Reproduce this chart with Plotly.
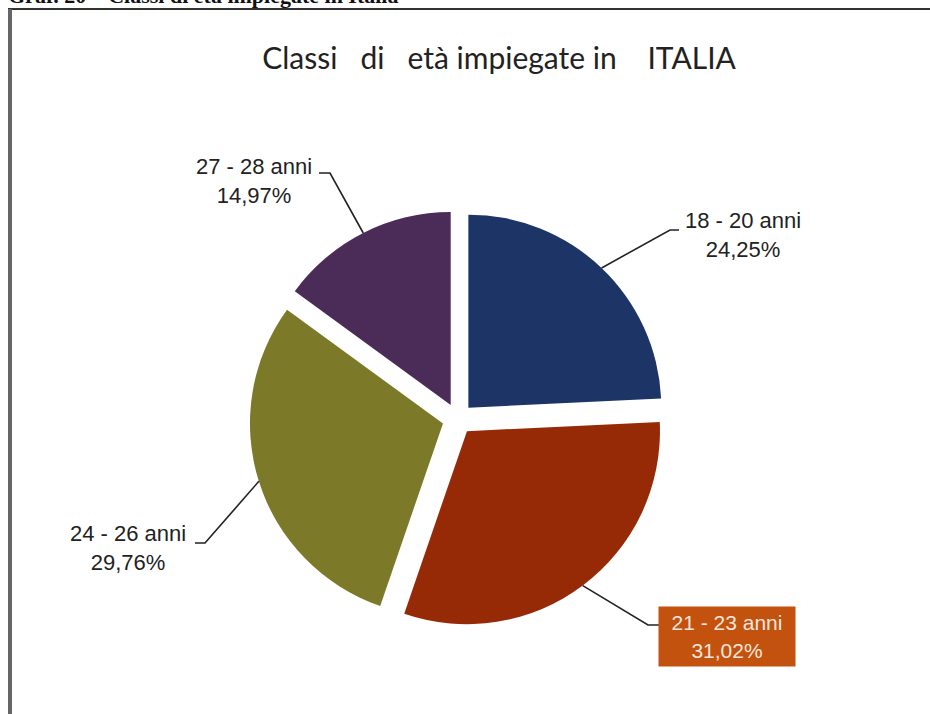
import math
import plotly.graph_objects as go

# ---- data ----
labels = ["18 - 20 anni", "21 - 23 anni", "24 - 26 anni", "27 - 28 anni"]
values = [24.25, 31.02, 29.76, 14.97]
pct_text = ["24,25%", "31,02%", "29,76%", "14,97%"]
colors = ["#1d3467", "#972a06", "#7c7929", "#4b2b57"]

NB = "\u00a0"
title_text = ("Classi" + NB * 3 + "di" + NB * 3 + "età" + NB + "impiegate" + NB + "in"
              + NB * 4 + "ITALIA")
caption_text = "Graf. 20 – Classi di età impiegate in Italia"

# ---- geometry (pixels) ----
W, H = 930, 714
CX, CY = 457.7, 418.8
R = 193.0
PULL = 0.08
half = R * (1 + PULL)
dom_x = [(CX - half) / W, (CX + half) / W]
dom_y = [(H - CY - half) / H, (H - CY + half) / H]


def px(x, y):
    return x / W, 1 - y / H


fig = go.Figure(go.Pie(
    labels=labels,
    values=values,
    sort=False,
    direction="clockwise",
    rotation=0,
    pull=[PULL] * len(values),
    marker=dict(colors=colors, line=dict(width=0)),
    textinfo="none",
    hoverinfo="label+percent",
    showlegend=False,
    domain=dict(x=dom_x, y=dom_y),
))

# edge points of slices (from data) for leader lines
total = sum(values)
edges = []
cum = 0.0
for v in values:
    mid = (cum + v / 2) / total * 2 * math.pi
    cum += v
    ax_ = CX + R * PULL * math.sin(mid)
    ay_ = CY - R * PULL * math.cos(mid)
    edges.append((ax_ + R * math.sin(mid), ay_ - R * math.cos(mid)))

# label layout: (elbow, end of line, text center)
label_layout = [
    ((670, 230), (679, 230), (743, 235)),
    ((648, 625), (659, 625), (727, 636)),
    ((205, 543), (195, 543), (128, 548)),
    ((330, 173), (319, 173), (254, 181)),
]

shapes = []
annotations = []
for i, (lab, pt) in enumerate(zip(labels, pct_text)):
    (ex, ey) = edges[i]
    (bx, by), (fx, fy), (tx, ty) = label_layout[i]
    p0 = px(ex, ey)
    p1 = px(bx, by)
    p2 = px(fx, fy)
    shapes.append(dict(
        type="path", xref="paper", yref="paper",
        path=f"M {p0[0]} {p0[1]} L {p1[0]} {p1[1]} L {p2[0]} {p2[1]}",
        line=dict(color="#222222", width=1.6),
    ))
    tpx, tpy = px(tx, ty)
    if i == 1:
        annotations.append(dict(
            x=tpx, y=tpy, xref="paper", yref="paper",
            text=f"{lab}<br>{pt}", showarrow=False,
            xanchor="center", yanchor="middle",
            font=dict(family="Liberation Sans, Arial, sans-serif", size=21, color="#f4e6dc"),
            bgcolor="#c4520f", width=132, height=55, borderpad=2,
        ))
    else:
        annotations.append(dict(
            x=tpx, y=tpy, xref="paper", yref="paper",
            text=f"{lab}<br>{pt}", showarrow=False,
            xanchor="center", yanchor="middle",
            font=dict(family="Liberation Sans, Arial, sans-serif", size=22, color="#222222"),
        ))

# clipped caption at the very top
annotations.append(dict(
    x=6 / W, y=1 + 5 / H, xref="paper", yref="paper",
    text=f"<b>{caption_text}</b>", showarrow=False,
    xanchor="left", yanchor="middle",
    font=dict(family="Liberation Serif, Times New Roman, serif", size=22, color="#111111"),
))

# frame
fx0, fy0 = px(10, 9)
shapes.append(dict(type="line", xref="paper", yref="paper",
                   x0=8 / W, y0=fy0, x1=1.0, y1=fy0,
                   line=dict(color="#333333", width=2)))
shapes.append(dict(type="line", xref="paper", yref="paper",
                   x0=fx0, y0=fy0, x1=fx0, y1=0,
                   line=dict(color="#666666", width=4)))

tx_, ty_ = px(499, 58)
fig.update_layout(
    width=W, height=H,
    margin=dict(l=0, r=0, t=0, b=0),
    paper_bgcolor="white", plot_bgcolor="white",
    title=dict(text=title_text, x=tx_, y=ty_, xanchor="center", yanchor="middle",
               xref="paper", yref="paper",
               font=dict(family="Lato, Carlito, Calibri, sans-serif", size=30, color="#222222")),
    shapes=shapes,
    annotations=annotations,
)

fig.write_html("out.html",
               config={"displayModeBar": False},
               post_script="document.body.style.margin='0';document.body.style.overflow='hidden';")
